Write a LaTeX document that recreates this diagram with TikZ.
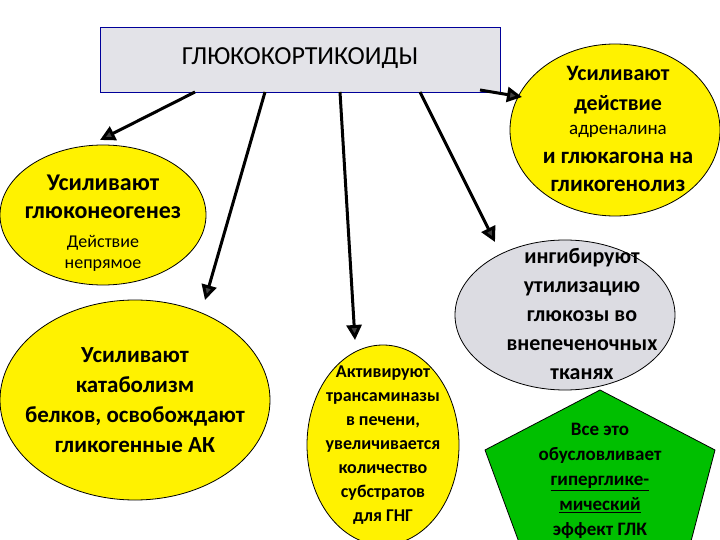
\documentclass[tikz,border=0pt]{standalone}
\usepackage{fontspec}
\setmainfont{Carlito}
\usetikzlibrary{arrows.meta}
\begin{document}
\begin{tikzpicture}[x=1pt,y=-1pt,
  ell/.style={draw=black,line width=0.8pt,fill=yellow},
  arr/.style={line width=3pt,-{Triangle[length=15pt,width=15pt,fill=darkgray]},draw=black},
  txt/.style={align=center}]
\useasboundingbox (0,0) rectangle (720,540);
\node[draw=blue!60!black,fill=blue!8!gray!20,minimum width=400pt,minimum height=65pt,anchor=north west,line width=0.8pt] (top) at (100,27) {};
\node[font=\fontsize{26}{28}\selectfont] at (300,58) {ГЛЮКОКОРТИКОИДЫ};
\fill[ell] (103,215) ellipse (103 and 70);
\fill[ell] (615,130) ellipse (105 and 86);
\fill[ell] (135,400) ellipse (135 and 100);
\fill[ell] (383,445) ellipse (76 and 100);
\fill[draw=black,line width=0.8pt,fill=blue!10!gray!25] (565,315) ellipse (110 and 75);
\fill[draw=black,line width=0.8pt,fill=green!75!black] (600,390) -- (715,450) -- (690,545) -- (520,545) -- (485,450) -- cycle;
\coordinate (a1) at (100,140); \coordinate (a2) at (205,300);
\coordinate (a3) at (355,340); \coordinate (a4) at (495,242);
\coordinate (a5) at (522,97);
\draw[arr] (195,92) -- (a1);
\draw[arr] (265,92) -- (a2);
\draw[arr] (340,92) -- (a3);
\draw[arr] (420,92) -- (a4);
\draw[arr] (480,90) -- (a5);
\node[txt,font=\bfseries\fontsize{24}{28}\selectfont] (e1) at (103,197) {Усиливают\\глюконеогенез};
\node[txt,font=\fontsize{18}{21}\selectfont] (e1b) at (103,253) {Действие\\непрямое};
\node[txt,font=\bfseries\fontsize{22}{30}\selectfont] (e2) at (618,90) {Усиливают\\действие};
\node[txt,font=\fontsize{19}{22}\selectfont] (e2b) at (618,131) {адреналина};
\node[txt,font=\bfseries\fontsize{23}{28}\selectfont] (e2c) at (618,172) {и глюкагона на\\гликогенолиз};
\node[txt,font=\bfseries\fontsize{23}{30}\selectfont] (e3) at (135,400) {Усиливают\\катаболизм\\белков, освобождают\\гликогенные АК};
\node[txt,font=\bfseries\fontsize{18}{24}\selectfont] (e4) at (383,445) {Активируют\\трансаминазы\\в печени,\\увеличивается\\количество\\субстратов\\для ГНГ};
\node[txt,font=\bfseries\fontsize{22}{29}\selectfont] (e5) at (582,314) {ингибируют\\утилизацию\\глюкозы во\\внепеченочных\\тканях};
\node[txt,font=\bfseries\fontsize{19}{25}\selectfont] (p) at (600,482) {Все это\\обусловливает\\\underline{гипергликe-}\\\underline{мический}\\\underline{эффект ГЛК}};
\end{tikzpicture}
\end{document}
